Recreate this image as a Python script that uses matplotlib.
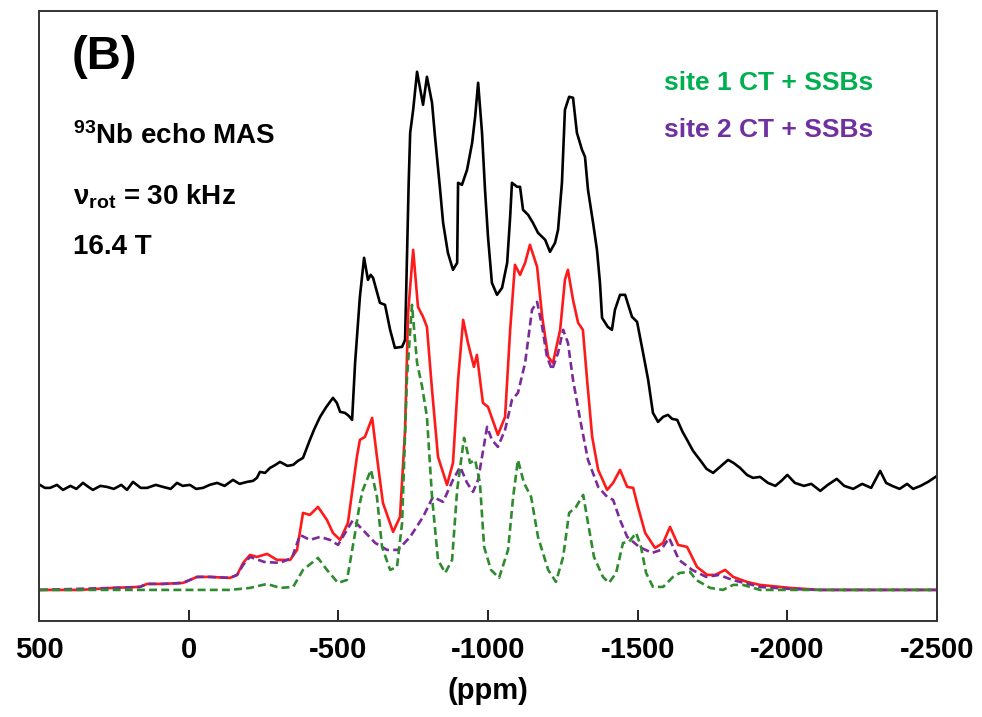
import matplotlib.pyplot as plt

plt.rcParams['font.family'] = ['Liberation Sans', 'DejaVu Sans']
plt.rcParams['font.weight'] = 'bold'
plt.rcParams['axes.unicode_minus'] = False
plt.rcParams['mathtext.fontset'] = 'custom'
plt.rcParams['mathtext.rm'] = 'Liberation Sans:bold'
plt.rcParams['mathtext.bf'] = 'Liberation Sans:bold'
plt.rcParams['mathtext.it'] = 'Liberation Sans:bold'

# experimental 93Nb echo MAS spectrum (height above its own baseline)
exp_ppm = [497, 480, 463, 440, 420, 395, 375, 353, 335, 320, 295, 273, 250, 225, 206, 186,
           160, 139, 110, 86, 60, 39, 20, -4, -25, -48, -70, -95, -120, -148, -170, -195,
           -215, -228, -238, -255, -272, -290, -305, -330, -349, -365, -382, -405, -420,
           -439, -460, -482, -495, -506, -522, -535, -546, -556, -572, -586, -599, -608,
           -616, -639, -656, -673, -689, -713, -723, -726, -735, -740, -750, -763, -783,
           -796, -813, -823, -840, -850, -866, -883, -897, -900, -913, -930, -947, -957,
           -967, -980, -990, -1000, -1013, -1030, -1047, -1064, -1074, -1080, -1097,
           -1107, -1117, -1134, -1150, -1167, -1191, -1207, -1224, -1234, -1247, -1257,
           -1271, -1284, -1297, -1314, -1324, -1334, -1351, -1364, -1374, -1381, -1400,
           -1414, -1424, -1441, -1458, -1481, -1498, -1518, -1535, -1551, -1568, -1585,
           -1601, -1615, -1632, -1650, -1665, -1685, -1708, -1730, -1752, -1775, -1802,
           -1820, -1842, -1865, -1885, -1909, -1935, -1960, -1980, -2000, -2025, -2055,
           -2080, -2110, -2135, -2165, -2190, -2220, -2250, -2280, -2310, -2330, -2350,
           -2375, -2400, -2420, -2445, -2470, -2495]
exp_int = [2, -1, -1, 2, -3, 1, -2, 4, 0, -3, 1, 0, -2, 2, -3, 5,
           -1, -1, 2, 0, -2, 4, 1, 2, -2, -1, 2, 4, 1, 7, 3, 5,
           6, 9, 15, 14, 19, 22, 25, 21, 22, 26, 29, 47, 58,
           70, 80, 89, 84, 75, 74, 71, 67, 124, 190, 229, 207, 212,
           209, 184, 182, 157, 139, 140, 147, 187, 304, 354, 377, 415, 382,
           410, 384, 350, 297, 264, 234, 217, 224, 304, 302, 317, 344, 370,
           404, 354, 297, 250, 204, 192, 199, 224, 270, 304, 300,
           300, 277, 272, 264, 254, 247, 235, 244, 257, 304, 377,
           390, 389, 354, 337, 330, 297, 264, 237, 204, 169, 160,
           157, 177, 192, 192, 170, 165, 134, 107, 74, 65, 70,
           72, 68, 67, 55, 47, 36, 27, 18, 14, 20, 27,
           24, 19, 12, 9, 10, 4, 1, 6, 12, 4, 1,
           3, -4, 2, 8, 1, -2, 3, -1, 16, 4, 1,
           -2, 3, -2, 1, 5, 10]

# simulated total line shape
fit_ppm = [497, 363, 253, 163, 139, 86, 19, -28, -71, -138, -162, -182, -205, -228,
           -262, -295, -339, -362, -382, -405, -432, -462, -482, -506, -532, -562, -572,
           -589, -613, -629, -649, -683, -706, -723, -733, -750, -766, -783, -796, -813,
           -833, -863, -883, -900, -917, -933, -953, -963, -983, -1000, -1033, -1057,
           -1074, -1090, -1107, -1124, -1140, -1164, -1181, -1201, -1217, -1241, -1257,
           -1267, -1284, -1301, -1317, -1331, -1348, -1368, -1398, -1418, -1441, -1465,
           -1485, -1501, -1525, -1558, -1585, -1608, -1635, -1665, -1698, -1732, -1759,
           -1792, -1819, -1865, -1909, -2009, -2109, -2500]
fit_int = [0, 0, 2, 3, 6, 6, 7, 13, 13, 12, 15, 27, 35, 33,
           36, 30, 30, 40, 77, 75, 83, 70, 57, 50, 67, 133, 150,
           153, 172, 133, 87, 58, 73, 160, 277, 340, 283, 273, 263, 200,
           133, 105, 127, 210, 270, 247, 223, 235, 187, 183, 155, 173,
           260, 325, 315, 327, 345, 323, 273, 233, 227, 260, 310,
           320, 290, 267, 260, 210, 153, 120, 100, 107, 120, 103,
           102, 83, 57, 42, 47, 63, 45, 43, 23, 15, 15,
           20, 13, 8, 5, 2, 0, 0]

# site 1 central transition + spinning sidebands
site1_ppm = [497, -28, -138, -205, -262, -305, -349, -382, -432, -462, -499, -529,
             -556, -572, -582, -609, -629, -646, -673, -696, -713, -729, -746, -763,
             -780, -796, -813, -833, -857, -880, -897, -920, -940, -957, -973, -987,
             -1010, -1037, -1067, -1084, -1100, -1120, -1144, -1167, -1201, -1227,
             -1251, -1271, -1294, -1318, -1334, -1354, -1384, -1404, -1428, -1451,
             -1471, -1495, -1511, -1528, -1551, -1585, -1618, -1641, -1675, -1695,
             -1742, -1785, -1819, -1852, -1909, -2500]
site1_int = [0, 0, 0, 2, 6, 2, 3, 20, 32, 20, 7, 10,
             57, 87, 100, 120, 93, 43, 20, 23, 67, 210, 285, 227,
             203, 173, 93, 30, 17, 30, 100, 152, 127, 130, 107, 43,
             20, 12, 40, 93, 130, 107, 93, 53, 20, 8,
             33, 77, 83, 95, 67, 33, 13, 7, 17, 47,
             48, 57, 43, 17, 3, 3, 13, 17, 18, 10,
             2, 0, 5, 5, 0, 0]

# site 2 central transition + spinning sidebands
site2_ppm = [497, 253, 163, 139, 86, 19, -28, -71, -138, -162, -182, -205, -252,
             -305, -345, -372, -405, -439, -472, -499, -529, -549, -582, -623, -663,
             -699, -740, -783, -816, -850, -883, -907, -930, -950, -967, -997, -1013,
             -1033, -1057, -1080, -1100, -1124, -1147, -1164, -1181, -1197, -1214,
             -1234, -1251, -1267, -1284, -1308, -1334, -1368, -1398, -1418, -1441,
             -1465, -1505, -1548, -1578, -1605, -1638, -1682, -1729, -1772, -1816,
             -1909, -2009, -2100, -2500]
site2_int = [0, 2, 3, 6, 6, 7, 13, 13, 12, 15, 25, 33, 28,
             27, 32, 55, 50, 53, 50, 45, 60, 70, 60, 47, 40,
             40, 53, 73, 93, 88, 110, 123, 107, 98, 110, 163, 150,
             143, 160, 190, 197, 227, 280, 288, 263, 233, 220,
             237, 260, 247, 210, 170, 130, 103, 93, 90, 70,
             53, 43, 37, 40, 52, 30, 20, 13, 15, 10,
             3, 1, 0, 0]

exp_offset = 103

fig = plt.figure(figsize=(9.82, 7.17), dpi=100)
ax = fig.add_axes([0.0397, 0.134, 0.9145, 0.851])

ax.plot(exp_ppm, [v + exp_offset for v in exp_int], color='black', lw=1.9)
ax.plot(fit_ppm, fit_int, color='#ff1a1a', lw=1.9)
ax.plot(site2_ppm, site2_int, color='#7a2a9a', lw=1.9, dashes=(3, 1.6))
ax.plot(site1_ppm, site1_int, color='#2e8b2e', lw=1.9, dashes=(3, 1.6))

ax.set_xlim(500, -2500)
ax.set_ylim(-31, 579)
ax.set_xticks([500, 0, -500, -1000, -1500, -2000, -2500])
ax.set_yticks([])
ax.tick_params(axis='x', direction='in', length=8, width=1.4, pad=11,
               labelsize=21, colors='#222222')
for lbl in ax.get_xticklabels():
    lbl.set_fontweight('bold')
    lbl.set_color('black')
for s in ax.spines.values():
    s.set_linewidth(1.4)
    s.set_color('#333333')
ax.set_xlabel('(ppm)', fontsize=21, fontweight='bold', labelpad=9)

ax.text(0.036, 0.925, '(B)', transform=ax.transAxes, fontsize=34,
        fontweight='bold', va='center', ha='left')
ax.text(0.038, 0.795, r'$^{93}$Nb echo MAS', transform=ax.transAxes, fontsize=20,
        fontweight='bold', va='center', ha='left')
ax.text(0.038, 0.695, r'ν$_{\mathrm{rot}}$ = 30 kHz', transform=ax.transAxes, fontsize=20,
        fontweight='bold', va='center', ha='left')
ax.text(0.038, 0.612, '16.4 T', transform=ax.transAxes, fontsize=20,
        fontweight='bold', va='center', ha='left')
ax.text(0.696, 0.882, 'site 1 CT + SSBs', transform=ax.transAxes, fontsize=19,
        fontweight='bold', color='#00b050', va='center', ha='left')
ax.text(0.696, 0.805, 'site 2 CT + SSBs', transform=ax.transAxes, fontsize=19,
        fontweight='bold', color='#7030a0', va='center', ha='left')

fig.savefig('out.png', dpi=100)
